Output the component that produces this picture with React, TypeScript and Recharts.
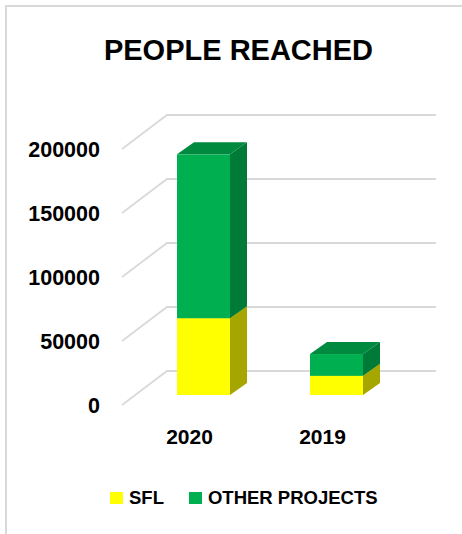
import React from "react";
import { Bar, BarChart, CartesianGrid, Legend, XAxis, YAxis } from "recharts";

const YEARS = ["2020", "2019"];
const SFL = [60000, 15000];
const OTHER = [128000, 17000];
const Y_TICKS = [0, 50000, 100000, 150000, 200000];

const SERIES = [
  { key: "sfl", name: "SFL", front: "#FFFF00", side: "#A6A600", top: "#CCCC00" },
  { key: "other", name: "OTHER PROJECTS", front: "#00B050", side: "#007A37", top: "#008A3F" },
];

const data = YEARS.map((year, i) => ({ year, sfl: SFL[i], other: OTHER[i] }));

const FONT = '"Liberation Sans", Arial, sans-serif';
const GRID = "#d9d9d9";
// depth of the fake 3d boxes
const DX = 17;
const DY = -12;

function Box(props: any) {
  const { x, y, width, height, colors } = props;
  if (!height || height <= 0) return null;
  const r = x + width;
  const b = y + height;
  return (
    <g>
      <rect x={x} y={y} width={width} height={height} fill={colors.front} />
      <path d={`M${r},${y} L${r + DX},${y + DY} L${r + DX},${b + DY} L${r},${b} Z`} fill={colors.side} />
      <path d={`M${x},${y} L${x + DX},${y + DY} L${r + DX},${y + DY} L${r},${y} Z`} fill={colors.top} />
    </g>
  );
}

// floor diagonal + back wall line for each y tick
const gridLine = (p: any) => {
  const { x1, x2, y1 } = p;
  return (
    <path
      key={p.key ?? `g-${y1}`}
      d={`M${x1 - 15},${y1 + 10} L${x1 + 30},${y1 - 24} L${x2 + 33},${y1 - 24}`}
      stroke={GRID}
      strokeWidth={1.8}
      fill="none"
    />
  );
};

const YTick = (p: any) => (
  <text x={100} y={p.y + 10} dy="0.35em" textAnchor="end" fontFamily={FONT} fontWeight={700} fontSize={21.5} fill="#000">
    {p.payload.value}
  </text>
);

const XTick = (p: any) => (
  <text x={p.x - 14} y={437} dy="0.35em" textAnchor="middle" fontFamily={FONT} fontWeight={700} fontSize={21} fill="#000">
    {p.payload.value}
  </text>
);

const renderLegend = () => (
  <div style={{ display: "flex", alignItems: "center", paddingLeft: 110, fontFamily: FONT, fontWeight: 700, fontSize: 18.5, color: "#000" }}>
    {SERIES.map((s) => (
      <div key={s.key} style={{ display: "flex", alignItems: "center", marginRight: 25 }}>
        <span style={{ display: "inline-block", width: 13, height: 12, background: s.front, marginRight: 6 }} />
        <span>{s.name}</span>
      </div>
    ))}
  </div>
);

export default function App() {
  return (
    <div style={{ position: "absolute", top: 0, left: 0, width: 462, height: 534, overflow: "hidden", background: "#fff" }}>
      <div
        style={{
          position: "absolute",
          left: 5,
          top: 5,
          width: 520,
          height: 560,
          borderLeft: `2px solid ${GRID}`,
          borderTop: `2px solid ${GRID}`,
        }}
      />
      <div
        style={{
          position: "absolute",
          top: 33,
          left: 0,
          width: 477,
          textAlign: "center",
          fontFamily: FONT,
          fontWeight: 700,
          fontSize: 29,
          lineHeight: "34px",
          color: "#000",
        }}
      >
        PEOPLE REACHED
      </div>
      <div style={{ position: "absolute", top: 0, left: 0 }}>
        <BarChart width={462} height={534} data={data} margin={{ top: 139, right: 59, bottom: 109, left: 0 }} barSize={53}>
          <CartesianGrid vertical={false} horizontal={gridLine} />
          <XAxis dataKey="year" height={30} tickSize={0} axisLine={false} tick={<XTick />} />
          <YAxis
            domain={[0, 200000]}
            ticks={Y_TICKS}
            width={137}
            tickSize={0}
            axisLine={false}
            tick={<YTick />}
          />
          <Legend
            layout="horizontal"
            verticalAlign="middle"
            align="center"
            content={renderLegend}
            wrapperStyle={{ top: 487, left: 0, width: 462 }}
          />
          {SERIES.map((s) => (
            <Bar
              key={s.key}
              dataKey={s.key}
              name={s.name}
              stackId="a"
              fill={s.front}
              isAnimationActive={false}
              shape={(p: any) => <Box {...p} colors={s} />}
            />
          ))}
        </BarChart>
      </div>
    </div>
  );
}
